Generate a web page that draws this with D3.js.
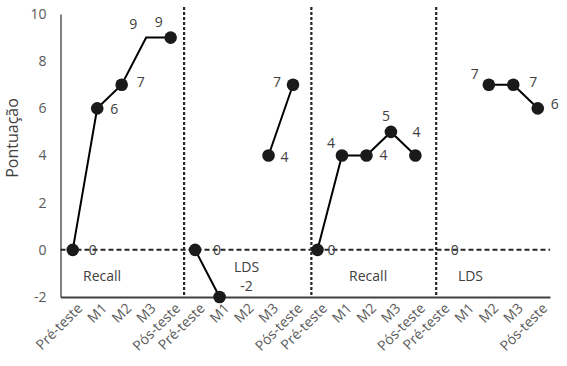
<!DOCTYPE html>
<html>
<head>
<meta charset="utf-8">
<script src="https://cdn.jsdelivr.net/npm/d3@7"></script>
<style>
body { margin: 0; background: #fff; }
text { font-family: "Open Sans", sans-serif; }
</style>
</head>
<body>
<svg id="chart" width="567" height="366"></svg>
<script>
// dados
var categories = ["Pré-teste", "M1", "M2", "M3", "Pós-teste"];
var groups = ["Recall", "LDS", "Recall", "LDS"];
var recall1 = [0, 6, 7, 9, 9];
var lds1 = [0, -2, null, 4, 7];
var recall2 = [0, 4, 4, 5, 4];
var lds2 = [0, null, 7, 7, 6];
var series = [recall1, lds1, recall2, lds2];
var yTicks = [-2, 0, 2, 4, 6, 8, 10];
// pontos sem marcador [grupo, categoria]
var noMarker = [[0, 3], [3, 0]];

// posicoes dos rotulos (dx, dy) por ponto
var labelOff = [
  [[20, 5], [17, 6], [19, 2], [-13, -9], [-12, -11]],
  [[22, 5], [27, -6], null, [16, 6], [-16, 2]],
  [[14, 5], [-11, -8], [17, 4], [-5, -11], [1, -19]],
  [[15, 5], null, [-14, -6], [20, 2], [17, 1]]
];
// divisorias e rotulos de grupo, em unidades de categoria
var dividers = [4.55, 9.75, 14.85];
var groupLabelAt = [1.2, 7.1, 12.07, 16.25];
var groupLabelY = [281, 272, 281, 281];

var svg = d3.select("#chart");
var pLeft = 60.5, pRight = 550, pTop = 14, pBottom = 297;

var keys = [];
groups.forEach(function(g, gi) {
  categories.forEach(function(c, ci) { keys.push(gi * 5 + ci); });
});

var x = d3.scalePoint().domain(keys).range([pLeft, pRight]).padding(0.5);
var xi = d3.scaleLinear().domain([0, keys.length - 1]).range([x(0), x(keys.length - 1)]);
var y = d3.scaleLinear().domain([-2, 10]).range([pBottom, pTop]);

// eixo y
svg.append("g")
  .attr("transform", "translate(" + pLeft + ",0)")
  .call(d3.axisLeft(y).tickValues(yTicks).tickSize(0).tickPadding(14)
    .tickFormat(function(d) { return String(d); }))
  .call(function(g) {
    g.select(".domain").attr("stroke", "#404040").attr("stroke-width", 1.3);
    g.selectAll("text").attr("font-size", 14).attr("fill", "#595959").attr("font-family", "Open Sans");
  });

svg.append("text")
  .attr("transform", "translate(18," + 138 + ") rotate(-90)")
  .attr("text-anchor", "middle")
  .attr("font-size", 16)
  .attr("fill", "#404040")
  .text("Pontuação");

// linha zero tracejada
svg.append("line")
  .attr("x1", pLeft).attr("x2", pRight)
  .attr("y1", y(0)).attr("y2", y(0))
  .attr("stroke", "#262626").attr("stroke-width", 2)
  .attr("stroke-dasharray", "5,3");

// divisorias
svg.selectAll(".div").data(dividers).enter().append("line")
  .attr("x1", function(d) { return xi(d); })
  .attr("x2", function(d) { return xi(d); })
  .attr("y1", 7).attr("y2", pBottom)
  .attr("stroke", "#262626").attr("stroke-width", 2.2)
  .attr("stroke-dasharray", "3,2");

// eixo x
svg.append("g")
  .attr("transform", "translate(0," + pBottom + ")")
  .call(d3.axisBottom(x).tickSize(0).tickFormat(function(d) { return categories[d % 5]; }))
  .call(function(g) {
    g.select(".domain").attr("stroke", "#404040").attr("stroke-width", 2);
    g.selectAll("text")
      .attr("font-size", 14).attr("fill", "#595959").attr("font-family", "Open Sans")
      .attr("text-anchor", "end")
      .attr("dy", 0)
      .attr("transform", "translate(8,10) rotate(-45)");
  });

// series
var line = d3.line()
  .defined(function(d) { return d.v !== null; })
  .x(function(d) { return x(d.k); })
  .y(function(d) { return y(d.v); });

series.forEach(function(s, gi) {
  var pts = s.map(function(v, ci) { return { v: v, k: gi * 5 + ci, gi: gi, ci: ci }; });
  var g = svg.append("g");
  g.append("path").datum(pts)
    .attr("d", line)
    .attr("fill", "none").attr("stroke", "#000").attr("stroke-width", 2);
  g.selectAll("circle")
    .data(pts.filter(function(d) {
      return d.v !== null && !noMarker.some(function(m) { return m[0] === d.gi && m[1] === d.ci; });
    }))
    .enter().append("circle")
    .attr("cx", function(d) { return x(d.k); })
    .attr("cy", function(d) { return y(d.v); })
    .attr("r", 6.3)
    .attr("fill", "#1a1a1a");
  g.selectAll(".lbl")
    .data(pts.filter(function(d) { return d.v !== null; }))
    .enter().append("text")
    .attr("x", function(d) { return x(d.k) + labelOff[d.gi][d.ci][0]; })
    .attr("y", function(d) { return y(d.v) + labelOff[d.gi][d.ci][1]; })
    .attr("text-anchor", "middle")
    .attr("font-size", 14)
    .attr("fill", "#404040")
    .text(function(d) { return d.v; });
});

// rotulos dos grupos
svg.selectAll(".grp").data(groups).enter().append("text")
  .attr("x", function(d, i) { return xi(groupLabelAt[i]); })
  .attr("y", function(d, i) { return groupLabelY[i]; })
  .attr("text-anchor", "middle")
  .attr("font-size", 14)
  .attr("fill", "#404040")
  .text(function(d) { return d; });
</script>
</body>
</html>
